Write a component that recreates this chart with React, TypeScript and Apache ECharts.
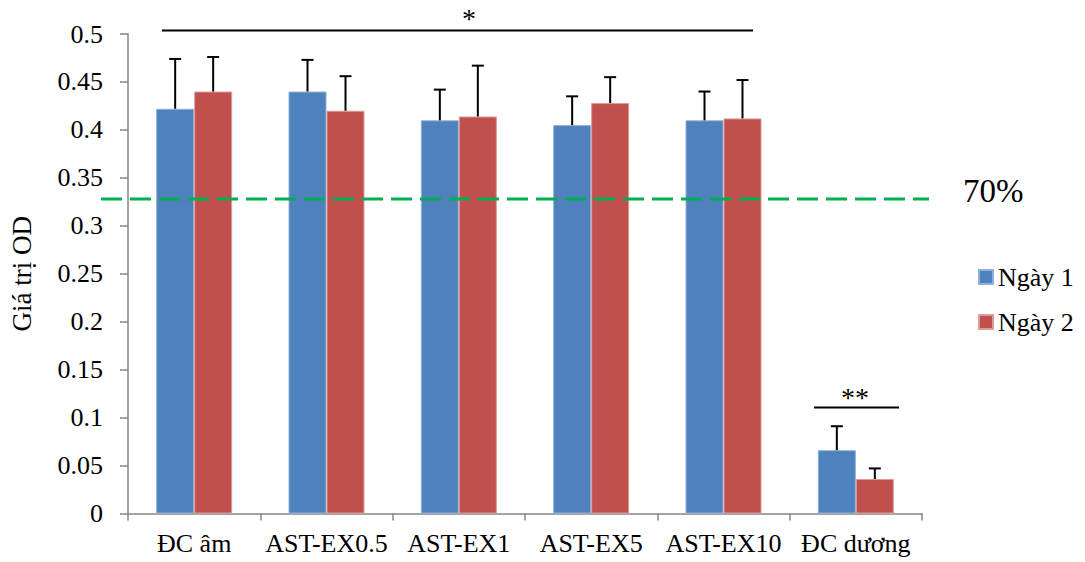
import React, { useEffect, useRef } from "react";
import * as echarts from "echarts";

const categories = ["ĐC âm", "AST-EX0.5", "AST-EX1", "AST-EX5", "AST-EX10", "ĐC dương"];
const day1Values = [0.422, 0.44, 0.41, 0.405, 0.41, 0.066];
const day1Errors = [0.052, 0.033, 0.032, 0.03, 0.03, 0.025];
const day2Values = [0.44, 0.42, 0.414, 0.428, 0.412, 0.036];
const day2Errors = [0.036, 0.036, 0.053, 0.027, 0.04, 0.011];
const thresholdValue = 0.328;
const thresholdLabel = "70%";
const yTicks = { min: 0, max: 0.5, interval: 0.05 };
const seriesNames = ["Ngày 1", "Ngày 2"];
const yAxisName = "Giá trị OD";

const FONT = "'Liberation Serif', 'Times New Roman', serif";
const BLUE = "#4F81BD";
const RED = "#C0504D";
const BAR_W = 38;

function errorSeries(values: number[], errors: number[], offset: number) {
  return {
    type: "custom",
    z: 5,
    silent: true,
    encode: { x: 0, y: 1 },
    data: values.map((v, i) => [i, v, errors[i]]),
    renderItem: (params: any, api: any) => {
      const x = api.value(0);
      const v = api.value(1);
      const e = api.value(2);
      const base = api.coord([x, v]);
      const top = api.coord([x, v + e]);
      const cx = base[0] + offset;
      return {
        type: "group",
        children: [
          { type: "line", shape: { x1: cx, y1: base[1], x2: cx, y2: top[1] }, style: { stroke: "#000", lineWidth: 2 } },
          { type: "line", shape: { x1: cx - 6, y1: top[1], x2: cx + 6, y2: top[1] }, style: { stroke: "#000", lineWidth: 2 } },
        ],
      };
    },
  };
}

export default function App() {
  const ref = useRef<HTMLDivElement>(null);
  useEffect(() => {
    if (!ref.current) return;
    document.body.style.margin = "0";
    document.body.style.overflow = "hidden";
    const chart = echarts.init(ref.current, null, { renderer: "svg" });
    const option: any = {
      animation: false,
      backgroundColor: "#fff",
      textStyle: { fontFamily: FONT },
      grid: { left: 128, right: 163, top: 34, bottom: 48.5, containLabel: false, outerBoundsMode: "none" },
      legend: {
        data: seriesNames,
        orient: "vertical",
        left: 973,
        top: 259,
        itemWidth: 14,
        itemHeight: 14,
        itemGap: 19,
        icon: "rect",
        textStyle: { fontFamily: FONT, fontSize: 26, color: "#000" },
      },
      xAxis: {
        type: "category",
        data: categories,
        axisLine: { lineStyle: { color: "#868686", width: 1.5 } },
        axisTick: { show: true, length: 7, lineStyle: { color: "#868686", width: 1.5 } },
        axisLabel: { fontFamily: FONT, fontSize: 26, color: "#000", margin: 17, interval: 0 },
      },
      yAxis: {
        type: "value",
        min: yTicks.min,
        max: yTicks.max,
        interval: yTicks.interval,
        name: yAxisName,
        nameLocation: "middle",
        nameGap: 93,
        nameTextStyle: { fontFamily: FONT, fontSize: 27, color: "#000" },
        axisLine: { show: true, lineStyle: { color: "#868686", width: 1.5 } },
        axisTick: { show: true, length: 8, lineStyle: { color: "#868686", width: 1.5 } },
        splitLine: { show: false },
        axisLabel: {
          fontFamily: FONT,
          fontSize: 26,
          color: "#000",
          margin: 25,
          formatter: (v: number) => String(parseFloat(v.toFixed(2))),
        },
      },
      series: [
        {
          name: seriesNames[0],
          type: "bar",
          data: day1Values,
          barWidth: BAR_W,
          barGap: "0%",
          itemStyle: { color: BLUE, borderColor: "#8FB0DA", borderWidth: 1 },
        },
        {
          name: seriesNames[1],
          type: "bar",
          data: day2Values,
          barWidth: BAR_W,
          barGap: "0%",
          itemStyle: { color: RED, borderColor: "#E09A98", borderWidth: 1 },
        },
        errorSeries(day1Values, day1Errors, -BAR_W / 2),
        errorSeries(day2Values, day2Errors, BAR_W / 2),
      ],
    };
    chart.setOption(option);
    const ty = chart.convertToPixel({ yAxisIndex: 0 }, thresholdValue) as number;
    chart.setOption({
      graphic: [
        {
          type: "line",
          z: 10,
          shape: { x1: 101, y1: ty, x2: 929, y2: ty },
          style: { stroke: "#00B050", lineWidth: 3, lineDash: [21, 8] },
        },
        {
          type: "text",
          x: 963,
          y: ty - 8,
          style: { text: thresholdLabel, fontFamily: FONT, fontSize: 33, fill: "#000", verticalAlign: "middle" },
        },
        {
          type: "line",
          shape: { x1: 162, y1: 30.5, x2: 753, y2: 30.5 },
          style: { stroke: "#000", lineWidth: 2 },
        },
        {
          type: "text",
          x: 469,
          y: 18,
          style: { text: "*", fontFamily: FONT, fontSize: 28, fill: "#000", align: "center", verticalAlign: "middle" },
        },
        {
          type: "line",
          shape: { x1: 814, y1: 407.5, x2: 899, y2: 407.5 },
          style: { stroke: "#000", lineWidth: 2 },
        },
        {
          type: "text",
          x: 855,
          y: 397,
          style: { text: "**", fontFamily: FONT, fontSize: 28, fill: "#000", align: "center", verticalAlign: "middle" },
        },
      ],
    });
    return () => chart.dispose();
  }, []);
  return <div ref={ref} style={{ position: "absolute", left: 0, top: 0, width: 1085, height: 562 }} />;
}
